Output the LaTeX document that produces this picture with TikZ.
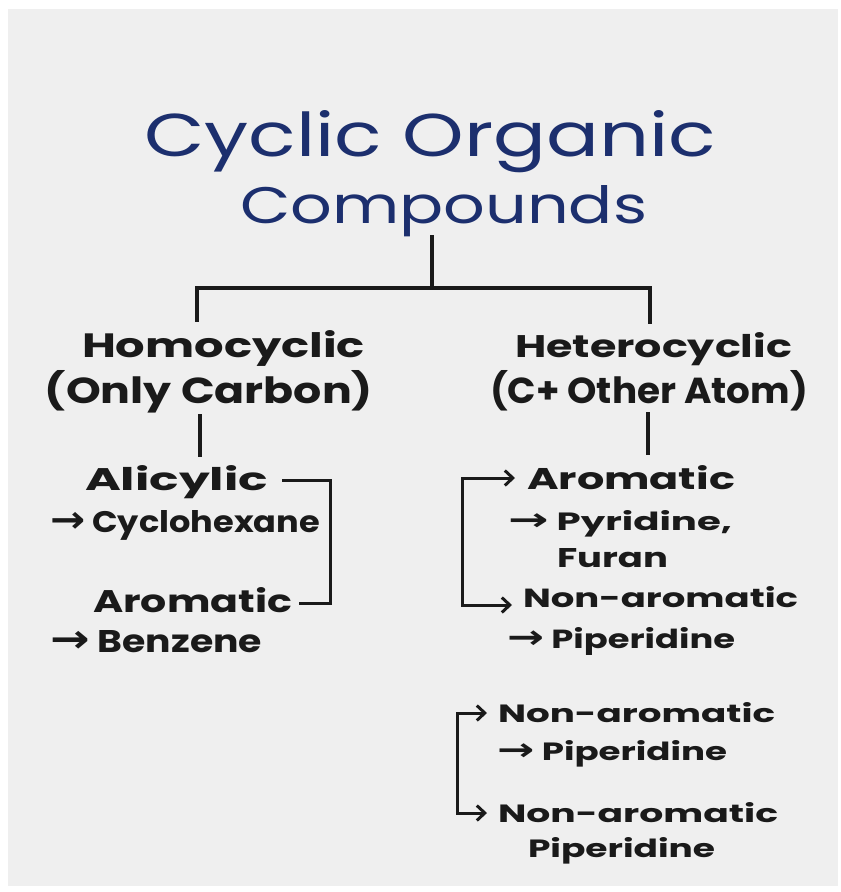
\documentclass[tikz,border=0pt]{standalone}
\usepackage{fontspec}
\usepackage{graphicx}
\setmainfont{Poppins}
\newfontfamily\arrfont{DejaVu Sans}
\usetikzlibrary{arrows.meta}
\definecolor{ink}{HTML}{1A1A1A}
\definecolor{pen}{HTML}{1C2F6E}
\definecolor{paper}{HTML}{EFEFEF}
\newcommand\fitbox[3]{\resizebox{#1pt}{#2pt}{#3}}
\newcommand\rarr{{\arrfont\scalebox{1.25}{→}}}
\begin{document}
\begin{tikzpicture}[x=1pt,y=-1pt,
  lbl/.style={anchor=base west, inner sep=0pt, outer sep=0pt, text=ink, font=\bfseries},
  ttl/.style={anchor=base west, inner sep=0pt, outer sep=0pt, text=pen},
  tree/.style={draw=ink, line width=3.2pt, line cap=rect, line join=miter},
  brk/.style={draw=ink, line width=3pt, line cap=rect, line join=miter, -{Straight Barb[length=8pt,width=15pt]}}]
\useasboundingbox (0,0) rectangle (841,892);
\fill[white] (0,0) rectangle (841,892);
\fill[paper] (8,9) rectangle (838,886);

% title
\node[ttl] (t1) at (144,156) {\fitbox{572}{46}{Cyclic Organic}};
\node[ttl] (t2) at (240,223) {\fitbox{407}{38}{Compounds}};

% level 1
\node[lbl] (homo) at (82,357) {\fitbox{283}{27}{Homocyclic}};
\node[lbl] (oc) at (45,403) {\fitbox{328}{33}{(Only Carbon)}};
\node[lbl] (hetero) at (515,357) {\fitbox{277}{25}{Heterocyclic}};
\node[lbl] (ca) at (490,403) {\fitbox{318}{33}{(C+ Other Atom)}};

% left branch
\node[lbl] (ali) at (85,490) {\fitbox{183}{25}{Alicylic}};
\node[lbl] (cyc) at (50,532) {\fitbox{270}{22}{\rarr\ Cyclohexane}};
\node[lbl] (aroL) at (93,612) {\fitbox{199}{25}{Aromatic}};
\node[lbl] (benz) at (50,652) {\fitbox{212}{22}{\rarr\ Benzene}};

% right branch
\node[lbl] (ar1) at (527,489) {\fitbox{208}{24}{Aromatic}};
\node[lbl] (pyr) at (508,530) {\fitbox{224}{20}{\rarr\ Pyridine,}};
\node[lbl] (fur) at (557,567) {\fitbox{111}{19}{Furan}};
\node[lbl] (na1) at (523,607) {\fitbox{275}{21}{Non-aromatic}};
\node[lbl] (pip1) at (507,648) {\fitbox{228}{21}{\rarr\ Piperidine}};

% bottom group
\node[lbl] (nb1) at (498,722) {\fitbox{277}{20}{Non-aromatic}};
\node[lbl] (pip2) at (497,760) {\fitbox{230}{20}{\rarr\ Piperidine}};
\node[lbl] (nb2) at (498,822) {\fitbox{280}{20}{Non-aromatic}};
\node[lbl] (pip3) at (528,857) {\fitbox{187}{20}{Piperidine}};

% tree connectors
\coordinate (j0) at (432,288);
\coordinate (jl) at (197,288);
\coordinate (jr) at (650,288);
\draw[tree] (t2.south -| j0) -- (j0);
\draw[tree] ([yshift=10pt]homo.north -| jl) -- (jl) -- (jr) -- ([yshift=10pt]hetero.north -| jr);

\coordinate (lv) at (200,430);
\coordinate (rv) at (648,430);
\draw[tree] ([yshift=-3pt]oc.south -| lv) -- ([yshift=10pt]ali.north -| lv);
\draw[tree] ([yshift=-3pt]ca.south -| rv) -- ([yshift=12pt]ar1.north -| rv);

% left bracket
\coordinate (lbt) at (330,480);
\coordinate (lbb) at (330,603);
\draw[tree, line width=3pt] ([xshift=15pt]ali.east |- lbt) -| (lbb) -- ([xshift=8pt]aroL.east |- lbb);

% right bracket 1
\coordinate (r1t) at (462,478);
\coordinate (r1b) at (462,605);
\draw[brk] (r1t) -- ([xshift=-12pt]ar1.west |- r1t);
\draw[brk] (r1t) |- ([xshift=-11pt]na1.west |- r1b);

% right bracket 2
\coordinate (r2t) at (457,713);
\coordinate (r2b) at (457,813);
\draw[brk] (r2t) -- ([xshift=-11pt]nb1.west |- r2t);
\draw[brk] (r2t) |- ([xshift=-11pt]nb2.west |- r2b);
\end{tikzpicture}
\end{document}
